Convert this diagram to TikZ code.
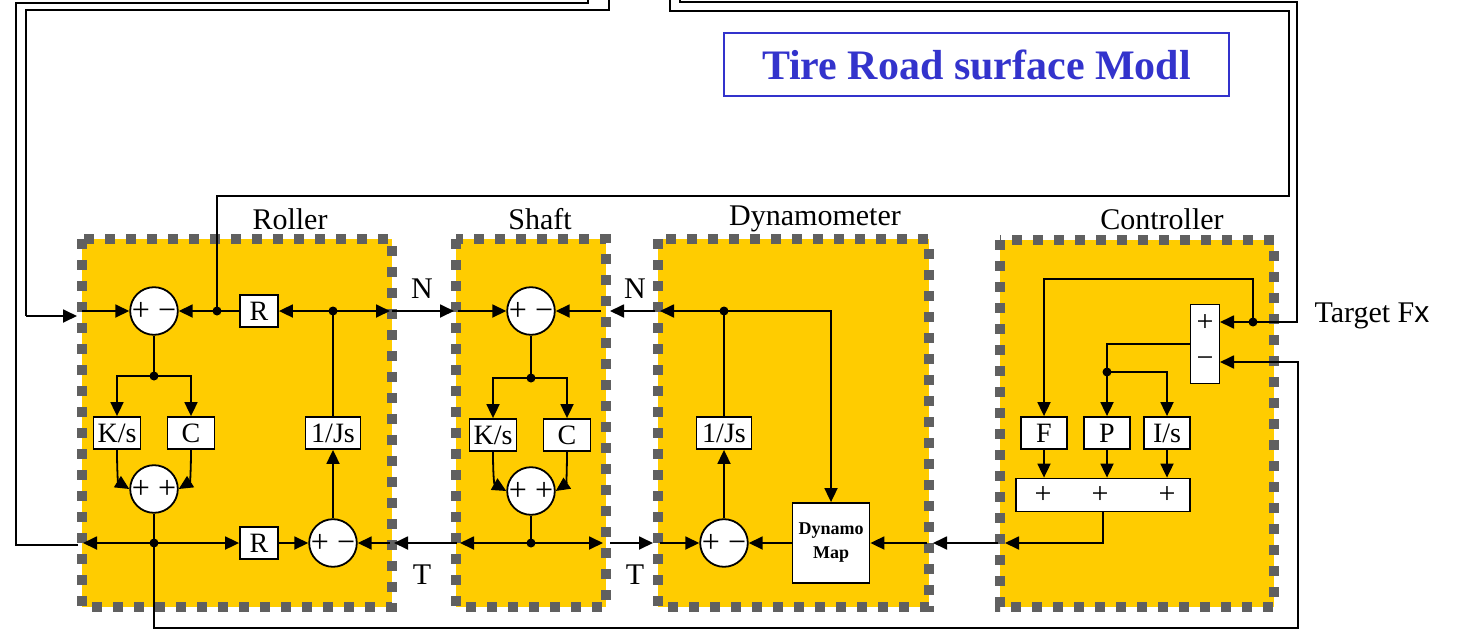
\documentclass[tikz,border=0pt]{standalone}
\usepackage{fontspec}
\setmainfont{Liberation Serif}
\setsansfont{Liberation Sans}
\usetikzlibrary{arrows.meta}
\definecolor{blkyellow}{RGB}{255,204,0}
\definecolor{blkgray}{RGB}{96,96,96}
\definecolor{titleblue}{RGB}{51,51,204}
\tikzset{
  blk/.style={fill=blkyellow, draw=blkgray, line width=10pt, dash pattern=on 10pt off 11pt},
  wire/.style={line width=1.8pt},
  sig/.style={line width=1.8pt, -{Triangle[length=14pt,width=13pt]}},
  gain/.style={draw, fill=white, line width=1.8pt, minimum height=32pt, inner sep=2pt, font=\fontsize{28}{30}\selectfont},
  sumc/.style={circle, draw, fill=white, line width=1.8pt, minimum size=46pt, inner sep=0pt, font=\fontsize{32}{34}\selectfont},
  blktitle/.style={font=\fontsize{30}{32}\selectfont},
  sigtxt/.style={font=\fontsize{30}{32}\selectfont}
}
\begin{document}
\begin{tikzpicture}[x=1pt,y=-1pt]
\useasboundingbox (0,0) rectangle (1457,632);

\draw[blk] (82,239) rectangle (392,607);
\draw[blk] (456,239) rectangle (606,607);
\draw[blk] (658,239) rectangle (929,607);
\draw[blk] (1000,240) rectangle (1274,607);

\node[draw=titleblue, line width=1.8pt, minimum width=505pt, minimum height=63pt, text=titleblue,
  font=\bfseries\fontsize{42}{44}\selectfont] (title) at (976.5,64.5) {Tire Road surface Modl};
\node[blktitle] (lroller) at (290,219) {Roller};
\node[blktitle] (lshaft) at (540,219) {Shaft};
\node[blktitle] (ldyn) at (815,219) {Dynamometer};
\node[blktitle] (lctrl) at (1162,219) {Controller};
\node[sigtxt] (n1) at (422,289) {N};
\node[sigtxt] (n2) at (635,289) {N};
\node[sigtxt] (t1) at (422,575) {T};
\node[sigtxt] (t2) at (635,575) {T};
\node[sigtxt, anchor=west] (target) at (1311,316) {Target F{\sffamily x}};

\node[sumc] (rsum1) at (154,311) {+ −};
\node[gain, minimum width=38pt] (rR1) at (259,311) {R};
\node[gain, minimum width=47pt] (rKs) at (117,433) {K/s};
\node[gain, minimum width=47pt] (rC) at (191,433) {C};
\node[sumc] (rsum2) at (154,489) {+ +};
\node[gain, minimum width=38pt] (rR2) at (259,543) {R};
\node[sumc] (rsum3) at (333,543) {+ −};
\node[gain, minimum width=55pt] (rJs) at (333,433) {1/Js};

\node[sumc] (ssum1) at (531,311) {+ −};
\node[gain, minimum width=47pt] (sKs) at (493,435) {K/s};
\node[gain, minimum width=47pt] (sC) at (567,435) {C};
\node[sumc] (ssum2) at (531,491) {+ +};

\node[sumc] (dsum) at (724,543) {+ −};
\node[gain, minimum width=55pt] (dJs) at (724,433) {1/Js};
\node[draw, fill=white, line width=1.8pt, minimum width=77pt, minimum height=80pt, align=center,
  font=\bfseries\fontsize{18}{24}\selectfont] (dmap) at (831,543) {Dynamo\\Map};

\node[draw, fill=white, line width=1.8pt, minimum width=29pt, minimum height=79pt] (cerr) at (1205,344) {};
\node[font=\fontsize{30}{32}\selectfont] (cerrplus) at (1205,323) {+};
\node[font=\fontsize{30}{32}\selectfont] (cerrminus) at (1205,362) {−};
\node[gain, minimum width=46pt] (cF) at (1044,433) {F};
\node[gain, minimum width=46pt] (cP) at (1107,433) {P};
\node[gain, minimum width=46pt] (cI) at (1167,433) {I/s};
\node[draw, fill=white, line width=1.8pt, minimum width=174pt, minimum height=33pt] (csum) at (1103,495) {};
\foreach \x in {1043,1100,1167}
  \node[font=\fontsize{30}{32}\selectfont] at (\x,495) {+};

\coordinate (rd1) at (217,311);
\coordinate (rd2) at (333,311);
\coordinate (rd3) at (154,376);
\coordinate (rd4) at (154,543);
\coordinate (sd1) at (531,378);
\coordinate (sd2) at (531,543);
\coordinate (dd1) at (724,311);
\coordinate (cd1) at (1253,322);
\coordinate (cd2) at (1107,372);
\coordinate (cerrp) at (1220,322);
\coordinate (cerrm) at (1220,362);

\draw[wire] (609,0) -- (609,10) -- (26,10) -- (26,316);
\draw[sig] (26,316) -- (77,316);
\draw[sig] (82,311) -- (rsum1.west);
\draw[wire] (78,545) -- (16,545) -- (16,3) -- (588,3) -- (588,0);
\draw[wire] (rd1) -- (217,196) -- (1289,196) -- (1289,11) -- (670,11) -- (670,0);
\draw[wire] (cd1) -- (1297,322) -- (1297,2) -- (680,2) -- (680,0);
\draw[sig] (rd4) -- (154,628) -- (1298,628) -- (1298,362) -- (cerrm);

\draw[sig] (rR1.west) -- (rsum1.east);
\draw[sig] (rd2) -- (rR1.east);
\draw[sig] (rd2) -- (390,311);
\draw[sig] (392,311) -- (454,311);
\draw[sig] (458,311) -- (ssum1.west);
\draw[wire] (rsum1.south) -- (rd3);
\draw[sig] (rd3) -| (rKs.north);
\draw[sig] (rd3) -| (rC.north);
\draw[sig] (rKs.south) .. controls (117,470) and (118,482) .. (rsum2.west);
\draw[sig] (rC.south) .. controls (191,470) and (190,482) .. (rsum2.east);
\draw[wire] (rsum2.south) -- (rd4);
\draw[sig] (rd4) -- (83,543);
\draw[sig] (rd4) -- (rR2.west);
\draw[sig] (rR2.east) -- (rsum3.west);
\draw[sig] (457,543) -- (394,543);
\draw[sig] (390,543) -- (rsum3.east);
\draw[sig] (rsum3.north) -- (rJs.south);
\draw[wire] (rJs.north) -- (rd2);

\draw[wire] (ssum1.south) -- (sd1);
\draw[sig] (sd1) -| (sKs.north);
\draw[sig] (sd1) -| (sC.north);
\draw[sig] (sKs.south) .. controls (493,472) and (494,484) .. (ssum2.west);
\draw[sig] (sC.south) .. controls (567,472) and (566,484) .. (ssum2.east);
\draw[wire] (ssum2.south) -- (sd2);
\draw[sig] (sd2) -- (460,543);
\draw[sig] (sd2) -- (603,543);
\draw[sig] (610,543) -- (653,543);
\draw[sig] (660,543) -- (dsum.west);
\draw[sig] (601,311) -- (ssum1.east);
\draw[sig] (655,311) -- (610,311);

\draw[sig] (dsum.north) -- (dJs.south);
\draw[wire] (dJs.north) -- (dd1);
\draw[sig] (dd1) -- (660,311);
\draw[sig] (dd1) -| (dmap.north);
\draw[sig] (dmap.west) -- (dsum.east);
\draw[sig] (927,543) -- (dmap.east);
\draw[sig] (998,543) -- (933,543);

\draw[sig] (cd1) -- (cerrp);
\draw[sig] (cd1) -- (1253,279) -| (cF.north);
\draw[wire] (cerr.west) -| (cd2);
\draw[sig] (cd2) -- (cP.north);
\draw[sig] (cd2) -| (cI.north);
\draw[sig] (cF.south) -- (cF.south |- csum.north);
\draw[sig] (cP.south) -- (cP.south |- csum.north);
\draw[sig] (cI.south) -- (cI.south |- csum.north);
\draw[sig] (csum.south) |- (1005,543);

\foreach \p in {rd1,rd2,rd3,rd4,sd1,sd2,dd1,cd1,cd2}
  \fill (\p) circle (4.5pt);
\end{tikzpicture}
\end{document}
